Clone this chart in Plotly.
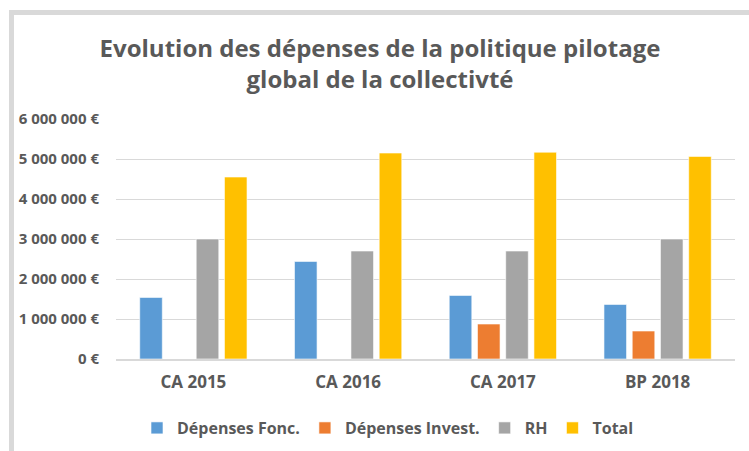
import plotly.graph_objects as go

categories = ["CA 2015", "CA 2016", "CA 2017", "BP 2018"]
series_names = ["Dépenses Fonc.", "Dépenses Invest.", "RH", "Total"]
depenses_fonc = [1540000, 2440000, 1590000, 1365000]
depenses_invest = [None, None, 875000, 700000]
rh = [3000000, 2700000, 2700000, 3000000]
total = [4550000, 5150000, 5170000, 5065000]
tick_vals = [0, 1000000, 2000000, 3000000, 4000000, 5000000, 6000000]
tick_text = ["0 €", "1 000 000 €", "2 000 000 €", "3 000 000 €", "4 000 000 €", "5 000 000 €", "6 000 000 €"]

colors = ["#5B9BD5", "#ED7D31", "#A5A5A5", "#FFC000"]
values = [depenses_fonc, depenses_invest, rh, total]

W, H = 749, 451
ML, MR, MT, MB = 116, 14, 119, 92
PW, PH = W - ML - MR, H - MT - MB

def px(x):
    return (x - ML) / PW

def py(y):
    return (H - MB - y) / PH

fig = go.Figure()
for name, vals, col in zip(series_names, values, colors):
    fig.add_trace(go.Bar(
        name=f"<b>{name}</b>", x=categories, y=vals,
        marker=dict(color=col, line=dict(color="rgba(255,255,255,0.6)", width=1)),
    ))

fig.update_layout(
    width=W, height=H,
    margin=dict(l=ML, r=MR, t=MT, b=MB, autoexpand=False),
    paper_bgcolor="white", plot_bgcolor="white",
    barmode="group", bargap=0.27, bargroupgap=0.2,
    font=dict(family="Open Sans", color="#595959"),
    title=dict(
        text="<b>Evolution des dépenses de la politique pilotage<br>global de la collectivté</b>",
        x=px(380), xref="paper", xanchor="center", y=1 - 57 / H, yanchor="middle",
        font=dict(size=24, color="#595959", family="Open Sans"),
    ),
    xaxis=dict(
        showgrid=False, showline=True, linecolor="#d9d9d9", linewidth=2,
        tickfont=dict(size=17, color="#595959", family="Open Sans"),
        ticks="", ticklabelstandoff=7,
        tickprefix="<b>", ticksuffix="</b>",
    ),
    yaxis=dict(
        range=[0, 6000000], tickvals=tick_vals,
        ticktext=[f"<b>{t}</b>" for t in tick_text],
        showgrid=True, gridcolor="#d9d9d9", gridwidth=1, zeroline=False,
        tickfont=dict(size=15, color="#595959", family="Open Sans"),
        ticks="", ticklabelstandoff=16, fixedrange=True,
    ),
    legend=dict(
        orientation="h", x=px(388), xanchor="center", y=py(428), yanchor="middle",
        font=dict(size=16, color="#595959", family="Open Sans"),
        traceorder="normal", itemwidth=30,
    ),
    shapes=[
        dict(type="path", xref="paper", yref="paper",
             path=f"M {px(11.5)} {py(470)} L {px(11.5)} {py(12.5)} L {px(780)} {py(12.5)}",
             line=dict(color="#d9d9d9", width=5)),
    ],
)

fig.write_html(
    "out.html",
    config={"displayModeBar": False},
    post_script="document.body.style.margin='0';document.body.style.overflow='hidden';",
)
